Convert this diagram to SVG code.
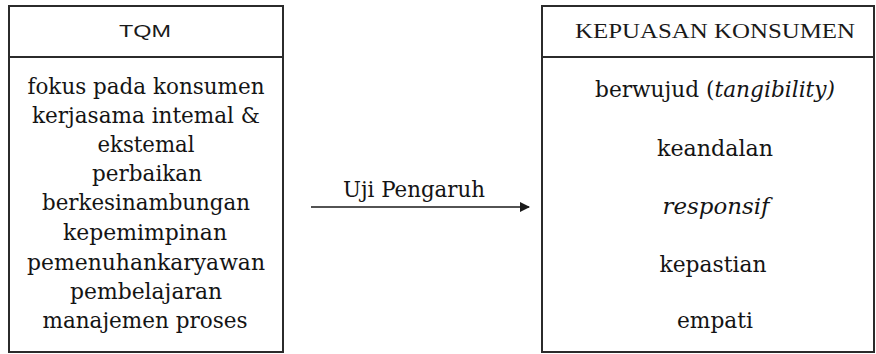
<svg xmlns="http://www.w3.org/2000/svg" width="876" height="354" viewBox="0 0 876 354">
  <defs>
    <style>
      .box { fill: #ffffff; stroke: #2b2b2b; stroke-width: 2; }
      .div { stroke: #2b2b2b; stroke-width: 2; }
      .t { font-family: "DejaVu Serif", "Liberation Serif", serif; font-size: 22px; fill: #141414; text-anchor: middle; }
      .hs { font-family: "Liberation Sans", Arial, sans-serif; font-size: 16px; fill: #1a1a1a; text-anchor: middle; }
      .hr { font-family: "Liberation Serif", serif; font-size: 21px; fill: #1a1a1a; text-anchor: middle; }
      .it { font-style: italic; }
      .conn { stroke: #1a1a1a; stroke-width: 1.6; fill: none; }
    </style>
    <marker id="arrow" viewBox="0 0 10 10" refX="9" refY="5" markerWidth="6.5" markerHeight="6.5" markerUnits="strokeWidth" orient="auto">
      <path d="M0,0 L10,5 L0,10 z" fill="#1a1a1a"/>
    </marker>
  </defs>
  <rect width="876" height="354" fill="#ffffff"/>

  <g id="node-tqm">
    <rect class="box" x="9" y="6" width="274" height="346"/>
    <line class="div" x1="9" y1="57" x2="283" y2="57"/>
    <text class="hs" x="145" y="37" textLength="52" lengthAdjust="spacingAndGlyphs">TQM</text>
    <text class="t" x="146" y="94" textLength="237" lengthAdjust="spacingAndGlyphs">fokus pada konsumen</text>
    <text class="t" x="146" y="123" textLength="228" lengthAdjust="spacingAndGlyphs">kerjasama intemal &amp;</text>
    <text class="t" x="146" y="152" textLength="97" lengthAdjust="spacingAndGlyphs">ekstemal</text>
    <text class="t" x="147" y="181" textLength="110" lengthAdjust="spacingAndGlyphs">perbaikan</text>
    <text class="t" x="146" y="210" textLength="208" lengthAdjust="spacingAndGlyphs">berkesinambungan</text>
    <text class="t" x="145" y="240" textLength="164" lengthAdjust="spacingAndGlyphs">kepemimpinan</text>
    <text class="t" x="146" y="270" textLength="238" lengthAdjust="spacingAndGlyphs">pemenuhankaryawan</text>
    <text class="t" x="146" y="299" textLength="152" lengthAdjust="spacingAndGlyphs">pembelajaran</text>
    <text class="t" x="145" y="328" textLength="205" lengthAdjust="spacingAndGlyphs">manajemen proses</text>
  </g>

  <g id="node-kepuasan">
    <rect class="box" x="542" y="6" width="332" height="346"/>
    <line class="div" x1="542" y1="57" x2="874" y2="57"/>
    <text class="hr" x="715" y="38" textLength="280" lengthAdjust="spacingAndGlyphs">KEPUASAN KONSUMEN</text>
    <text class="t" x="715" y="97" textLength="240" lengthAdjust="spacingAndGlyphs">berwujud (<tspan class="it">tangibility)</tspan></text>
    <text class="t" x="715" y="156" textLength="116" lengthAdjust="spacingAndGlyphs">keandalan</text>
    <text class="t it" x="716" y="214" textLength="107" lengthAdjust="spacingAndGlyphs">responsif</text>
    <text class="t" x="713" y="272" textLength="107" lengthAdjust="spacingAndGlyphs">kepastian</text>
    <text class="t" x="715" y="328" textLength="76" lengthAdjust="spacingAndGlyphs">empati</text>
  </g>

  <g id="connectors">
    <line class="conn" x1="311" y1="207" x2="529" y2="207" marker-end="url(#arrow)"/>
    <text class="t" x="414" y="197" textLength="142" lengthAdjust="spacingAndGlyphs">Uji Pengaruh</text>
  </g>
</svg>
